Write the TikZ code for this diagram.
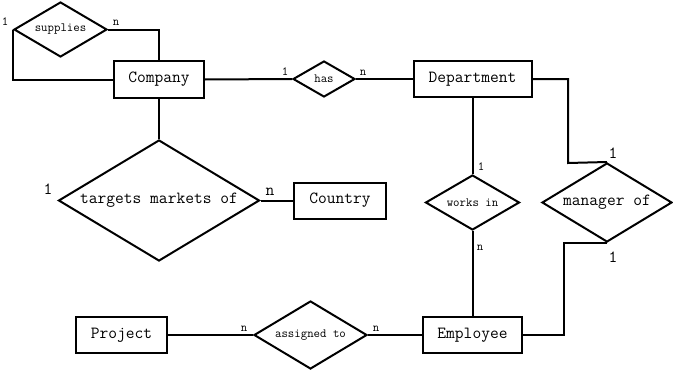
\documentclass[tikz,border=0pt]{standalone}
\usetikzlibrary{shapes.geometric}
\newcommand{\bigtxt}{\ttfamily\fontsize{17}{20}\selectfont}
\newcommand{\smalltxt}{\ttfamily\fontsize{12.5}{15}\selectfont}
\begin{document}
\begin{tikzpicture}[x=1pt,y=-1pt,
  line width=2pt,
  entity/.style={draw, rectangle, inner sep=0pt, font=\bigtxt},
  rel/.style={draw, diamond, inner sep=0pt, shape aspect=1.7, line join=miter},
  relsmall/.style={rel, font=\smalltxt},
  relbig/.style={rel, font=\bigtxt},
  cardsmall/.style={inner sep=0pt, anchor=base, font=\smalltxt},
  cardbig/.style={inner sep=0pt, anchor=base, font=\bigtxt},
  link/.style={draw, line width=2pt}]
  \fill[white] (0,0) rectangle (673,372);
  \useasboundingbox (0,0) rectangle (673,372);

  % entities
  \node[entity, minimum width=90pt, minimum height=37pt] (co) at (159,79.5) {Company};
  \node[entity, minimum width=118pt, minimum height=36pt] (dep) at (472.5,79) {Department};
  \node[entity, minimum width=92pt, minimum height=36pt] (ctry) at (340,200.5) {Country};
  \node[entity, minimum width=99pt, minimum height=36pt] (emp) at (472.5,335) {Employee};
  \node[entity, minimum width=91pt, minimum height=36pt] (proj) at (121.5,335) {Project};

  % relationships
  \node[relsmall, minimum width=93pt, minimum height=55pt] (sup) at (60.5,29.5) {supplies};
  \node[relsmall, minimum width=62pt, minimum height=36pt] (has) at (324,79) {has};
  \node[relbig, minimum width=201pt, minimum height=121pt] (tm) at (159,200.5) {targets markets of};
  \node[relsmall, minimum width=94pt, minimum height=55pt] (wi) at (472.5,202.5) {works in};
  \node[relbig, minimum width=130pt, minimum height=79pt] (mgr) at (607,202.5) {manager of};
  \node[relsmall, minimum width=113pt, minimum height=68pt] (asg) at (310.5,335) {assigned to};

  % bend points
  \coordinate (mk1) at (568,163);
  \coordinate (mk2) at (564,335);

  % connectors
  \draw[link] (sup.east) -| (co.north);
  \draw[link] (sup.west) |- (co.west);
  \draw[link] (co.east) -- (has.west);
  \draw[link] (has.east) -- (dep.west);
  \draw[link] (co.south) -- (tm.north);
  \draw[link] (tm.east) -- (ctry.west);
  \draw[link] (dep.south) -- (wi.north);
  \draw[link] (wi.south) -- (emp.north);
  \draw[link] (dep.east) -| (mk1) -- (mgr.north);
  \draw[link] (mgr.south) -| (mk2) -- (emp.east);
  \draw[link] (proj.east) -- (asg.west);
  \draw[link] (asg.east) -- (emp.west);

  % cardinalities
  \node[cardsmall] (c1) at (5,25) {1};
  \node[cardsmall] (c2) at (116,25) {n};
  \node[cardsmall] (c3) at (285,75) {1};
  \node[cardsmall] (c4) at (363,75) {n};
  \node[cardbig] (c5) at (48,194) {1};
  \node[cardbig] (c6) at (270,195) {n};
  \node[cardsmall] (c7) at (481,170) {1};
  \node[cardsmall] (c8) at (480,250) {n};
  \node[cardbig] (c9) at (613,158) {1};
  \node[cardbig] (c10) at (613,262) {1};
  \node[cardsmall] (c11) at (244,331) {n};
  \node[cardsmall] (c12) at (376,331) {n};
\end{tikzpicture}
\end{document}
